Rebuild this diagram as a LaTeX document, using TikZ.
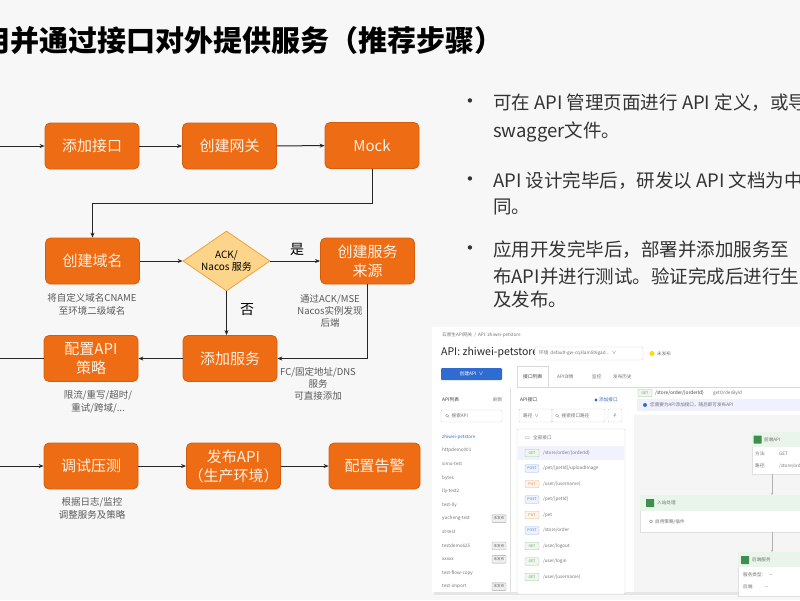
\documentclass[tikz,border=0pt]{standalone}
\usepackage{fontspec}
\setmainfont{Noto Sans CJK SC}
\newfontfamily\dejavu{DejaVu Sans}
\usetikzlibrary{arrows.meta,shapes.geometric}
\definecolor{bg}{HTML}{F7F7F7}
\definecolor{org}{HTML}{EE6D14}
\definecolor{orgd}{HTML}{D55C0B}
\definecolor{boxtxt}{HTML}{FFF1E4}
\definecolor{dia}{HTML}{FDD58A}
\definecolor{diad}{HTML}{F0A03A}
\definecolor{bodytxt}{HTML}{333333}
\definecolor{uiblue}{HTML}{2F6BD1}
\definecolor{uigreen}{HTML}{3E8E4E}
\definecolor{uigreenbg}{HTML}{E9F5EA}
\definecolor{getc}{HTML}{5BA55B}
\definecolor{postc}{HTML}{4F7FD6}
\definecolor{putc}{HTML}{E08A3C}
\definecolor{graybadge}{HTML}{666666}
\newcommand{\fsz}[2]{\fontsize{#1}{#2}\selectfont}
\tikzset{
  box/.style={rectangle, rounded corners=5pt, fill=org, draw=orgd, line width=0.8pt,
    minimum width=94pt, minimum height=46pt, text=boxtxt, font=\fsz{15}{19}, align=center, inner sep=0pt},
  note/.style={text=black!65, font=\fsz{9.5}{12.3}, align=center, inner sep=0pt},
  arr/.style={-{Stealth[length=5pt,width=4pt]}, line width=1pt, black!85},
  ln/.style={line width=1pt, black!85},
  yn/.style={font=\fsz{14}{16}, text=black, inner sep=0pt},
  body/.style={font=\fsz{18.5}{22}, text=bodytxt, anchor=west, inner sep=0pt},
  bul/.style={font=\dejavu\fsz{15}{16}, text=bodytxt, inner sep=0pt},
  ss/.style={font=\fsz{4.6}{5.5}, text=black!55, anchor=west, inner sep=0pt},
  ssd/.style={font=\fsz{4.8}{5.5}, text=black!75, anchor=west, inner sep=0pt},
  uibox/.style={draw=black!18, fill=white, line width=0.4pt, rounded corners=1pt},
  badge/.style={draw=#1!60, fill=#1!10, text=#1, font=\fsz{3.6}{4}, rounded corners=0.8pt,
    minimum width=14pt, minimum height=7.5pt, inner sep=0pt, line width=0.35pt},
  card/.style={draw=black!12, fill=white, line width=0.4pt},
  cardhead/.style={fill=uigreenbg},
  icon/.style={fill=uigreen, minimum size=8pt, inner sep=0pt, rounded corners=0.5pt},
  mag/.style={draw=black!45, line width=0.35pt},
}
\begin{document}
\begin{tikzpicture}[x=1pt,y=-1pt]
\useasboundingbox (0,0) rectangle (800,600);
\clip (0,0) rectangle (800,600);
\fill[bg] (0,0) rectangle (800,600);

% title
\node[font=\fsz{29}{32}\bfseries, anchor=west, inner sep=0pt, text=black] (title) at (-19,41) {用并通过接口对外提供服务（推荐步骤）};

% ---------- flowchart ----------
\node[box] (add) at (92,146) {添加接口};
\node[box] (gw) at (229.5,146) {创建网关};
\node[box] (mock) at (372,145.5) {Mock};
\node[box] (dom) at (92.5,261) {创建域名};
\node[diamond, fill=dia, draw=diad, line width=0.8pt, minimum width=87pt, minimum height=60pt, inner sep=0pt] (dec) at (226.5,261) {};
\node[font=\fsz{10}{12}, align=center, inner sep=0pt, text=black] (dectxt) at (dec.center) {ACK/\\Nacos 服务};
\node[box] (src) at (367.5,261) {创建服务\\来源};
\node[box] (svc) at (230,358.5) {添加服务};
\node[box] (pol) at (91,358.5) {配置API\\策略};
\node[box] (test) at (91,466) {调试压测};
\node[box] (pub) at (233.5,466) {发布API\\（生产环境）};
\node[box, minimum width=91pt] (alarm) at (374.5,466) {配置告警};

\coordinate (l1) at (0,146);
\coordinate (l2) at (0,358.5);
\coordinate (l3) at (0,466);

\draw[arr] (l1) -- (add);
\draw[arr] (add) -- (gw);
\draw[arr] (gw) -- (mock);
\draw[arr] (mock.south) -- ++(0,35) -| (dom.north);
\draw[arr] (dom) -- (dec);
\draw[arr] (dec) -- (src);
\draw[arr] (dec.south) -- (dec.south |- svc.north);
\draw[arr] (src.south) |- (svc.east);
\draw[arr] (svc) -- (pol);
\draw[ln] (pol) -- (l2);
\draw[arr] (l3) -- (test);
\draw[arr] (test) -- (pub);
\draw[arr] (pub) -- (alarm);

\node[yn] (yes) at (297,249) {是};
\node[yn] (no) at (247,310) {否};

\node[note] (n1) at (92,304.5) {将自定义域名CNAME\\至环境二级域名};
\node[note] (n2) at (330,311) {通过ACK/MSE\\Nacos实例发现\\后端};
\node[note] (n3) at (318,384) {FC/固定地址/DNS\\服务\\可直接添加};
\node[note] (n4) at (98,402) {限流/重写/超时/\\重试/跨域/...};
\node[note] (n5) at (92,508.5) {根据日志/监控\\调整服务及策略};

% ---------- bullet text ----------
\node[bul] (b1) at (470,103) {•};
\node[body] (t1) at (493,103) {可在 API 管理页面进行 API 定义，或导入};
\node[body] (t2) at (493,132) {swagger文件。};
\node[bul] (b2) at (470,181) {•};
\node[body] (t3) at (493,181) {API 设计完毕后，研发以 API 文档为中心};
\node[body] (t4) at (493,207) {同。};
\node[bul] (b3) at (470,250) {•};
\node[body] (t5) at (493,250) {应用开发完毕后，部署并添加服务至};
\node[body] (t6) at (493,276) {布API并进行测试。验证完成后进行生产};
\node[body] (t7) at (493,299) {及发布。};

% ---------- screenshot ----------
\fill[black!10] (434,329) rectangle (802,595);
\fill[white] (432,327) rectangle (800,592);
\node[ss] (bc) at (442,335) {云原生API网关 \ / \ API: zhiwei-petstore};
\node[font=\fsz{10.5}{12}, text=black!85, anchor=west, inner sep=0pt] (apititle) at (441,353) {API: zhiwei-petstore};
\draw[uibox] (535,347) rectangle (643,360);
\node[ss] (env) at (539,353.5) {环境 \ default-gw-cq3lam5t6gad... \ ∨};
\fill[yellow!80!orange] (652,353.5) circle (2.6pt);
\node[ss] (unpub) at (657,353.5) {未发布};
\fill[uiblue, rounded corners=1pt] (441,368) rectangle (502,380);
\node[font=\fsz{4.8}{5.5}, text=white, inner sep=0pt] (create) at (471.5,374) {创建API \ ∨};
% tabs
\draw[black!15, line width=0.4pt] (517,387) -- (800,387);
\draw[black!15, line width=0.4pt, fill=white] (517,387) -- (517,366) -- (548,366) -- (548,387);
\node[ssd] (tab1) at (523,376.5) {接口列表};
\node[ss] (tab2) at (557,376.5) {API详情};
\node[ss] (tab3) at (592,376.5) {监控};
\node[ss] (tab4) at (613,376.5) {发布历史};
% left panel
\draw[black!12, line width=0.4pt] (510,388) -- (510,592);
\node[ssd] (apilist) at (442,400) {API列表};
\node[ss] (refresh) at (493,400) {刷新};
\draw[uibox] (441,410) rectangle (502,422);
\draw[mag] (447,415.5) circle (1.5pt) (448.1,416.6) -- (449.3,417.8);
\node[ss] (search) at (451.5,416) {搜索API};
\node[ss, text=uiblue] (li1) at (442,437) {zhiwei-petstore};
\node[ss] (li2) at (442,450.6) {httpdemo001};
\node[ss] (li3) at (442,464.2) {simu-test};
\node[ss] (li4) at (442,477.8) {bytes};
\node[ss] (li5) at (442,491.4) {lly-test2};
\node[ss] (li6) at (442,505) {test-lly};
\node[ss] (li7) at (442,518.6) {yucheng-test};
\node[ss] (li8) at (442,532.2) {st-test};
\node[ss] (li9) at (442,545.8) {testdemo625};
\node[ss] (li10) at (442,559.4) {xxxxx};
\node[ss] (li11) at (442,573) {test-flow-copy};
\node[ss] (li12) at (442,586.6) {test-import};
\node[badge=graybadge] (lb1) at (499,518.6) {未发布};
\node[badge=graybadge] (lb2) at (499,545.8) {未发布};
\node[badge=graybadge] (lb3) at (499,559.4) {未发布};
\node[badge=graybadge] (lb4) at (499,586.6) {未发布};
% middle panel
\node[ssd] (apiif) at (520,400) {API接口};
\fill[uiblue] (596,400) circle (1.6pt);
\node[ss, text=uiblue] (addif) at (599,400) {添加接口};
\draw[uibox] (519,409) rectangle (552,422);
\node[ss] (sel) at (523,415.5) {路径 \ ∨};
\draw[uibox] (552,409) rectangle (605,422);
\draw[mag] (557,415.5) circle (1.5pt) (558.1,416.6) -- (559.3,417.8);
\node[ss] (ifsearch) at (561.5,415.5) {搜索接口路径};
\draw[uibox] (608,409) rectangle (622,422);
\node[ss] (bulb) at (612.5,415.5) {♀};
\draw[uibox] (517,429) rectangle (625,594);
\node[ss, font=\dejavu\fsz{5}{5.5}] (folder) at (525,438) {▭};
\node[ss] (allif) at (533,438) {全部接口};
\fill[blue!5] (518,446) rectangle (624,460);
\node[badge=getc] (m1) at (532,453) {GET};
\node[ss] (p1) at (543,453) {/store/order/\{orderId\}};
\node[badge=postc] (m2) at (532,468.5) {POST};
\node[ss] (p2) at (543,468.5) {/pet/\{petId\}/uploadImage};
\node[badge=putc] (m3) at (532,484) {PUT};
\node[ss] (p3) at (543,484) {/user/\{username\}};
\node[badge=postc] (m4) at (532,499.5) {POST};
\node[ss] (p4) at (543,499.5) {/pet/\{petId\}};
\node[badge=putc] (m5) at (532,515) {PUT};
\node[ss] (p5) at (543,515) {/pet};
\node[badge=postc] (m6) at (532,530.5) {POST};
\node[ss] (p6) at (543,530.5) {/store/order};
\node[badge=getc] (m7) at (532,546) {GET};
\node[ss] (p7) at (543,546) {/user/logout};
\node[badge=getc] (m8) at (532,561.5) {GET};
\node[ss] (p8) at (543,561.5) {/user/login};
\node[badge=getc] (m9) at (532,577) {GET};
\node[ss] (p9) at (543,577) {/user/\{username\}};
% right panel
\node[badge=getc] (hm) at (645,393) {GET};
\node[ssd] (hp) at (655,393) {/store/order/\{orderId\}};
\node[ss] (hid) at (713,393) {getOrderById};
\fill[blue!6] (637,399) rectangle (800,411);
\fill[uiblue] (645,405) circle (2pt);
\node[ss] (info) at (650,405) {您需要为API添加接口，随后即可发布API};
\fill[black!4] (634,415) rectangle (800,592);
% card front API
\draw[card] (752,432) rectangle (802,474);
\fill[cardhead] (752.2,432.2) rectangle (801,447);
\node[icon] (ic1) at (757.5,439.5) {};
\node[ss] (c1t) at (764,439.5) {前端API};
\node[ss] (c1a) at (755,454) {方法:};
\node[ss] (c1b) at (779,454) {GET};
\node[ss] (c1c) at (755,466) {路径:};
\node[ss] (c1d) at (779,466) {/store/order};
% card inbound
\draw[card] (640,495) rectangle (802,532);
\fill[cardhead] (640.2,495.2) rectangle (801,511);
\node[icon] (ic2) at (650,503) {};
\node[ss] (c2t) at (657,503) {入站处理};
\node[ss, font=\dejavu\fsz{4.6}{5.5}] (gear) at (649,522) {⚙};
\node[ss] (c2a) at (655,522) {启用策略/插件};
% card backend
\draw[card] (738,552) rectangle (802,596);
\fill[cardhead] (738.2,552.2) rectangle (801,567);
\node[icon] (ic3) at (745,560) {};
\node[ss] (c3t) at (752,560) {后端服务};
\node[ss] (c3a) at (743,575) {服务类型: \quad —};
\node[ss] (c3b) at (743,587) {后端: \quad\quad —};
\coordinate (k1) at (772,474);
\coordinate (k2) at (772,495);
\coordinate (k3) at (772,532);
\coordinate (k4) at (772,552);
\draw[black!30, line width=0.4pt, -{Stealth[length=2pt,width=2pt]}] (k1) -- (k2);
\draw[black!30, line width=0.4pt, -{Stealth[length=2pt,width=2pt]}] (k3) -- (k4);
\end{tikzpicture}
\end{document}
